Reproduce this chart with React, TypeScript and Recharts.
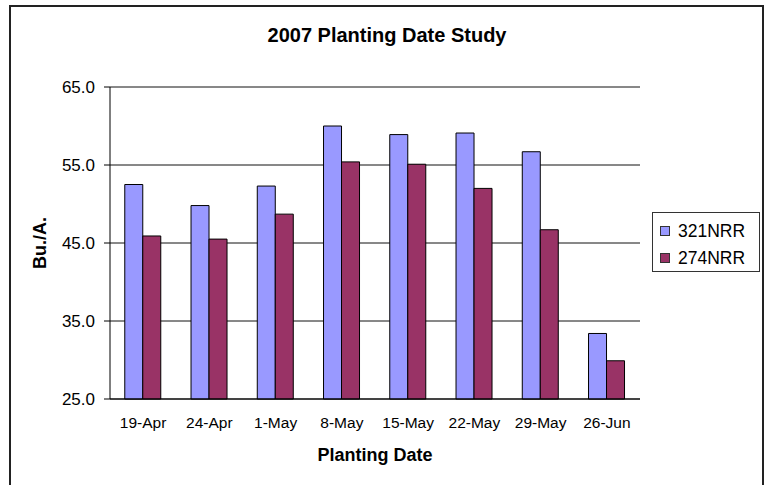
import React from "react";
import {
  BarChart,
  Bar,
  XAxis,
  YAxis,
  CartesianGrid,
  Legend,
} from "recharts";

// planting dates along the x axis
const dates = ["19-Apr", "24-Apr", "1-May", "8-May", "15-May", "22-May", "29-May", "26-Jun"];
// yields in Bu./A. for each variety
const nrr321 = [52.5, 49.8, 52.3, 60.0, 58.9, 59.1, 56.7, 33.4];
const nrr274 = [45.9, 45.5, 48.7, 55.4, 55.1, 52.0, 46.7, 29.9];
const yTicks = [25, 35, 45, 55, 65];

const series = [
  { key: "321NRR", color: "#9999FF" },
  { key: "274NRR", color: "#993366" },
];

const data = dates.map((date, i) => ({
  date,
  "321NRR": nrr321[i],
  "274NRR": nrr274[i],
}));

// tick marks sit between categories, so a hidden numeric axis carries them
const edgeTicks = dates.map((_, i) => i).concat(dates.length);

const FONT = "'Liberation Sans', Arial, sans-serif";

const LegendBox = () => (
  <div
    style={{
      width: 106,
      height: 58,
      border: "1px solid #333",
      background: "#fff",
      fontFamily: FONT,
      fontSize: 17.5,
      position: "relative",
    }}
  >
    {series.map((s, i) => (
      <div
        key={s.key}
        style={{
          position: "absolute",
          left: 7,
          top: 8 + i * 27,
          height: 20,
          display: "flex",
          alignItems: "center",
          whiteSpace: "nowrap",
        }}
      >
        <span
          style={{
            width: 8,
            height: 8,
            background: s.color,
            border: "1px solid #333",
            marginRight: 8,
            display: "inline-block",
          }}
        />
        <span style={{ lineHeight: "20px" }}>{s.key}</span>
      </div>
    ))}
  </div>
);

const YTitle = (props: any) => {
  const { x, y, height } = props.viewBox;
  const cx = x - 4.5;
  const cy = y + height / 2;
  return (
    <text
      x={cx}
      y={cy}
      transform={`rotate(-90, ${cx}, ${cy})`}
      textAnchor="middle"
      fontFamily={FONT}
      fontSize={18}
      fontWeight="bold"
      fill="#000"
    >
      Bu./A.
    </text>
  );
};

const XTitle = (props: any) => {
  const { x, y, width } = props.viewBox;
  return (
    <text
      x={x + width / 2}
      y={y + 62}
      textAnchor="middle"
      fontFamily={FONT}
      fontSize={18}
      fontWeight="bold"
      fill="#000"
    >
      Planting Date
    </text>
  );
};

const App = () => {
  return (
    <div
      style={{
        position: "absolute",
        left: 0,
        top: 0,
        width: 765,
        height: 485,
        overflow: "hidden",
        background: "#fff",
      }}
    >
      <div
        style={{
          position: "absolute",
          left: 9,
          top: 5,
          width: 751,
          height: 500,
          border: "2px solid #222",
        }}
      />
      <div
        style={{
          position: "absolute",
          left: 387,
          top: 25,
          transform: "translateX(-50%)",
          fontFamily: FONT,
          fontSize: 20,
          lineHeight: "20px",
          fontWeight: "bold",
          whiteSpace: "nowrap",
        }}
      >
        2007 Planting Date Study
      </div>
      <div style={{ position: "absolute", left: 0, top: 0 }}>
        <BarChart
          width={765}
          height={485}
          data={data}
          margin={{ top: 87, right: 125, bottom: 56, left: 50 }}
          barCategoryGap="22.3%"
          barGap={0}
        >
          <CartesianGrid
            xAxisId="cat"
            vertical={false}
            stroke="#111"
            strokeOpacity={1}
            strokeWidth={1}
          />
          <XAxis
            xAxisId="edges"
            type="number"
            domain={[0, dates.length]}
            ticks={edgeTicks}
            allowDataOverflow
            height={0}
            axisLine={false}
            tickSize={6}
            tickLine={{ stroke: "#000" }}
            tick={() => <g />}
          />
          <XAxis
            xAxisId="cat"
            dataKey="date"
            interval={0}
            height={30}
            tickLine={false}
            tickSize={6}
            tickMargin={12}
            axisLine={{ stroke: "#000" }}
            tick={{ fontSize: 15.5, fill: "#000", fontFamily: FONT }}
            label={{ content: XTitle }}
          />
          <YAxis
            width={60}
            domain={[25, 65]}
            ticks={yTicks}
            tickFormatter={(v: number) => v.toFixed(1)}
            axisLine={{ stroke: "#000" }}
            tickLine={{ stroke: "#000" }}
            tickSize={6}
            tickMargin={9}
            tick={{ fontSize: 17, fill: "#000", fontFamily: FONT }}
            label={{ content: YTitle }}
          />
          <Legend
            layout="horizontal"
            verticalAlign="middle"
            align="center"
            content={() => <LegendBox />}
            wrapperStyle={{ left: 652, top: 212, width: 108, height: 60 }}
          />
          {series.map((s) => (
            <Bar
              key={s.key}
              xAxisId="cat"
              dataKey={s.key}
              name={s.key}
              fill={s.color}
              stroke="#000"
              strokeWidth={1}
              isAnimationActive={false}
            />
          ))}
        </BarChart>
      </div>
    </div>
  );
};

export default App;
